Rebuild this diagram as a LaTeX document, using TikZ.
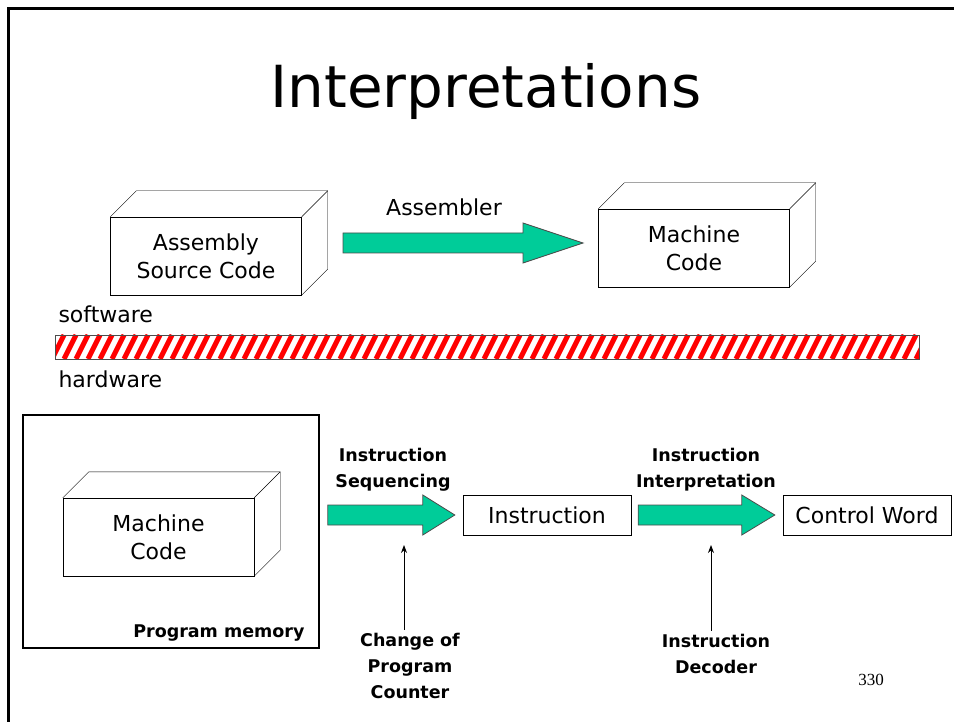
\documentclass[tikz,border=0pt]{standalone}
\usepackage{fontspec}
\setmainfont{DejaVu Sans}
\newfontfamily\numfont{Liberation Serif}
\usetikzlibrary{arrows.meta}

\definecolor{arrowgreen}{RGB}{0,204,153}
\definecolor{hatchred}{RGB}{255,0,0}

\tikzset{
  solidbox/.style={draw, fill=white, minimum width=191pt, minimum height=78pt,
    align=center, font=\fontsize{22}{28}\selectfont},
  flatbox/.style={draw, minimum width=168pt, minimum height=40pt, inner sep=0pt,
    font=\fontsize{22}{26}\selectfont},
  boldlabel/.style={align=center, font=\fontsize{17.5}{26}\selectfont\bfseries},
  plainlabel/.style={font=\fontsize{22}{26}\selectfont},
  fatarrow/.style={draw=black!70, fill=arrowgreen, line width=0.8pt},
  pointer/.style={-{Stealth[length=8pt,width=6pt]}, line width=0.8pt},
}

% depth faces of a solid box
\newcommand{\boxdepth}[1]{%
  \draw (#1.north west) -- ++(26,-26) -- ([shift={(26,-26)}]#1.north east)
    -- ([shift={(26,-26)}]#1.south east) -- (#1.south east);
  \draw (#1.north east) -- ++(26,-26);}

% block arrow: start, tip, head length
\newcommand{\blockarrow}[3]{%
  \filldraw[fatarrow] ([shift={(0,10)}]#1) -- ([shift={(-#3,10)}]#2)
    -- ([shift={(-#3,20)}]#2) -- (#2) -- ([shift={(-#3,-20)}]#2)
    -- ([shift={(-#3,-10)}]#2) -- ([shift={(0,-10)}]#1) -- cycle;}

\begin{document}
\begin{tikzpicture}[x=1pt, y=-1pt]
\useasboundingbox (0,0) rectangle (954,722);

% Slide frame
\draw [line width=3pt] (8,722) -- (8,9) -- (954,9);

% Title
\node (title) at (486,108) [anchor=base, font=\fontsize{58}{60}\selectfont] {Interpretations};

% Software level
\node [solidbox] (asm) at (206,256) {Assembly\\Source Code};
\boxdepth{asm}
\node [solidbox] (mc) at (694,248) {Machine\\Code};
\boxdepth{mc}

\coordinate (asmout) at (343,243);
\coordinate (mcin) at (583,243);
\blockarrow{asmout}{mcin}{60}
\node [plainlabel] (asmlabel) at (444,207) {Assembler};

% Software / hardware boundary
\node [plainlabel, anchor=base west] (sw) at (55,323) {software};
\node [plainlabel, anchor=base west] (hw) at (55,387) {hardware};
\begin{scope}
\clip (55,335) rectangle (919,359);
\foreach \x in {40,52,...,932}
  \draw [hatchred, line width=5pt] (\x,359) -- ++(12,-24);
\end{scope}
\draw [black!70, line width=0.8pt] (55,335) rectangle (919,359);

% Hardware level
\node [draw, line width=1.6pt, minimum width=296pt, minimum height=233pt] (pmem) at (171,531.5) {};
\node [boldlabel, anchor=base east] (pmemlabel) at (308,637) {Program memory};
\node [solidbox] (mcmem) at (158.5,537) {Machine\\Code};
\boxdepth{mcmem}

\node [flatbox] (instr) at (547,515) {Instruction};
\node [flatbox] (ctrl) at (867,515) {Control Word};

\path (pmem.east |- instr.west) ++(8,0) coordinate (seqout);
\path (instr.west) ++(-8,0) coordinate (seqin);
\blockarrow{seqout}{seqin}{32}
\path (instr.east) ++(7,0) coordinate (intout);
\path (ctrl.west) ++(-8,0) coordinate (intin);
\blockarrow{intout}{intin}{33}

\node [boldlabel] (seqlabel) at (393,470) {Instruction\\Sequencing};
\node [boldlabel] (intlabel) at (706,470) {Instruction\\Interpretation};

% Control inputs
\node [boldlabel] (pc) at (410,666) {Change of\\Program\\Counter};
\node [boldlabel] (dec) at (716,654) {Instruction\\Decoder};
\coordinate (pctip) at (404,545);
\coordinate (dectip) at (711,545);
\draw [pointer] (pctip |- pc.north) -- (pctip);
\draw [pointer] (dectip |- dec.north) -- (dectip);

% Page number
\node (page) at (871,680) [font=\numfont\fontsize{17}{20}\selectfont] {330};

\end{tikzpicture}
\end{document}
